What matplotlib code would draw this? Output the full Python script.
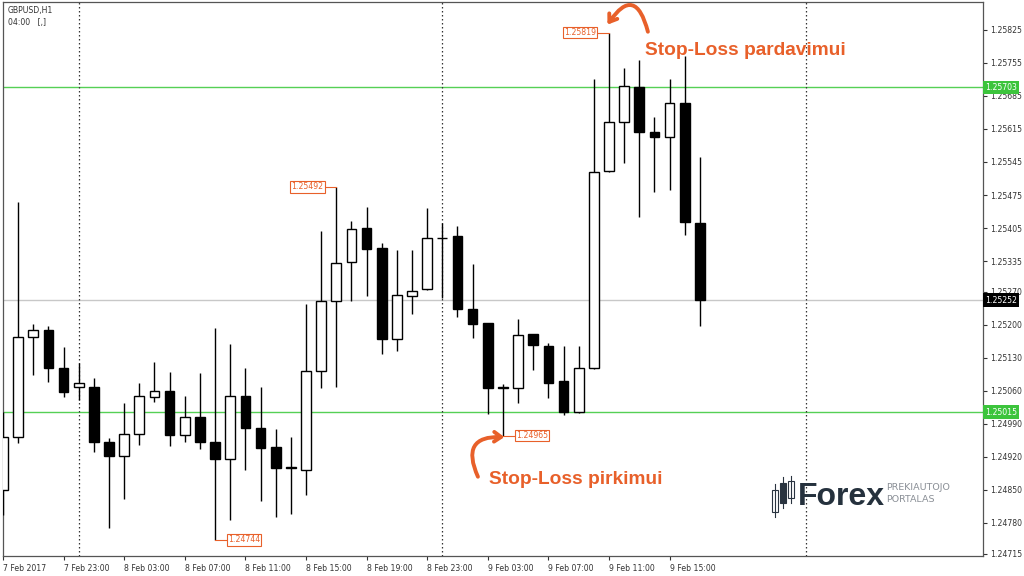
import matplotlib.pyplot as plt
import matplotlib.patches as mpatches
import numpy as np

# GBPUSD H1, 7 Feb 2017 19:00 .. 9 Feb 2017 17:00 (one candle per hour)
opens = [1.24850, 1.24962, 1.25174, 1.25189, 1.25108, 1.25068, 1.25068, 1.24952,
         1.24922, 1.24969, 1.25047, 1.25060, 1.24966, 1.25005, 1.24952, 1.24916,
         1.25049, 1.24981, 1.24941, 1.24898, 1.24892, 1.25102, 1.25250, 1.25333,
         1.25405, 1.25363, 1.25170, 1.25261, 1.25276, 1.25384, 1.25388, 1.25234,
         1.25204, 1.25068, 1.25066, 1.25181, 1.25155, 1.25081, 1.25015, 1.25108,
         1.25526, 1.25630, 1.25704, 1.25609, 1.25598, 1.25670, 1.25416]
highs = [1.25015, 1.25460, 1.25202, 1.25198, 1.25153, 1.25119, 1.25087, 1.24960,
         1.25034, 1.25077, 1.25121, 1.25100, 1.25049, 1.25098, 1.25193, 1.25159,
         1.25108, 1.25068, 1.24979, 1.24962, 1.25244, 1.25399, 1.25492, 1.25420,
         1.25450, 1.25373, 1.25359, 1.25359, 1.25448, 1.25416, 1.25410, 1.25329,
         1.25204, 1.25075, 1.25212, 1.25181, 1.25161, 1.25155, 1.25155, 1.25721,
         1.25819, 1.25744, 1.25761, 1.25641, 1.25721, 1.25770, 1.25556]
lows = [1.24797, 1.24949, 1.25094, 1.25079, 1.25047, 1.25041, 1.24930, 1.24769,
        1.24831, 1.24945, 1.25036, 1.24943, 1.24952, 1.24937, 1.24744, 1.24786,
        1.24892, 1.24826, 1.24793, 1.24799, 1.24839, 1.25066, 1.25068, 1.25250,
        1.25261, 1.25138, 1.25145, 1.25223, 1.25274, 1.25257, 1.25217, 1.25172,
        1.25011, 1.24965, 1.25034, 1.25104, 1.25045, 1.25009, 1.25013, 1.25106,
        1.25524, 1.25543, 1.25429, 1.25482, 1.25486, 1.25390, 1.25198]
closes = [1.24962, 1.25174, 1.25189, 1.25108, 1.25058, 1.25077, 1.24952, 1.24922,
          1.24969, 1.25049, 1.25060, 1.24966, 1.25005, 1.24952, 1.24916, 1.25049,
          1.24981, 1.24939, 1.24896, 1.24896, 1.25102, 1.25250, 1.25331, 1.25403,
          1.25361, 1.25170, 1.25263, 1.25272, 1.25384, 1.25384, 1.25234, 1.25202,
          1.25066, 1.25066, 1.25178, 1.25157, 1.25077, 1.25015, 1.25108, 1.25524,
          1.25630, 1.25706, 1.25609, 1.25598, 1.25670, 1.25418, 1.25252]

time_labels = ['7 Feb 2017', '7 Feb 23:00', '8 Feb 03:00', '8 Feb 07:00', '8 Feb 11:00',
               '8 Feb 15:00', '8 Feb 19:00', '8 Feb 23:00', '9 Feb 03:00', '9 Feb 07:00',
               '9 Feb 11:00', '9 Feb 15:00']
time_label_idx = [0, 4, 8, 12, 16, 20, 24, 28, 32, 36, 40, 44]
day_breaks = [5, 29, 53]  # 8 Feb 00:00, 9 Feb 00:00, 10 Feb 00:00

price_ticks = [1.24715, 1.24780, 1.24850, 1.24920, 1.24990, 1.25060, 1.25130, 1.25200,
               1.25270, 1.25335, 1.25405, 1.25475, 1.25545, 1.25615, 1.25685, 1.25755,
               1.25825]

green_levels = [1.25703, 1.25015]
last_price = 1.25252

# marked highs/lows: (candle index, price, label side)
marks = [(22, 1.25492, 'left'), (14, 1.24744, 'right'), (33, 1.24965, 'right'), (40, 1.25819, 'left')]

ORANGE = '#E8602A'
FS = 5.6

fig = plt.figure(figsize=(10.24, 5.76), dpi=100)
W, H = 1024, 576
ax = fig.add_axes([3 / W, (H - 556) / H, 980 / W, 554 / H])

x = np.arange(len(opens))
o = np.array(opens); c = np.array(closes)
ax.vlines(x, lows, highs, color='black', lw=1, zorder=3)
bull = c >= o
body_bottom = np.minimum(o, c)
body_h = np.abs(c - o)
ax.bar(x, body_h, bottom=body_bottom, width=0.64, color=np.where(bull, 'white', 'black'),
       edgecolor='black', linewidth=1, zorder=4)

for lvl in green_levels:
    ax.axhline(lvl, color='#55D055', lw=1, zorder=2)
ax.axhline(last_price, color='#C8C8C8', lw=1, zorder=2)
for d in day_breaks:
    ax.axvline(d, color='#333333', ls=(0, (1.2, 2)), lw=0.9, zorder=2)

ax.set_xlim(0, 64.69)
ax.set_ylim(1.24710, 1.25884)

ax.yaxis.tick_right()
ax.set_yticks(price_ticks)
ax.set_yticklabels([f'{p:.5f}' for p in price_ticks])
ax.set_xticks(time_label_idx)
ax.set_xticklabels(time_labels, ha='left')
ax.tick_params(axis='both', labelsize=FS, colors='#333333', length=3, width=0.8, pad=2)
ax.tick_params(axis='x', pad=3)
for s in ax.spines.values():
    s.set_color('#555555')
    s.set_linewidth(0.9)

# right-hand price tags
ytr = ax.get_yaxis_transform()
for lvl in green_levels:
    ax.text(1.002, lvl, f'{lvl:.5f}', transform=ytr, ha='left', va='center', fontsize=FS,
            color='white', bbox=dict(boxstyle='square,pad=0.3', fc='#3CC43C', ec='none'), clip_on=False)
ax.text(1.002, last_price, f'{last_price:.5f}', transform=ytr, ha='left', va='center', fontsize=FS,
        color='white', bbox=dict(boxstyle='square,pad=0.3', fc='black', ec='none'), clip_on=False)

# high / low labels
for idx, p, side in marks:
    off = 0.75
    lx = idx - off if side == 'left' else idx + off
    ax.plot([idx, lx], [p, p], color=ORANGE, lw=0.8, zorder=3)
    ax.text(lx + (-0.1 if side == 'left' else 0.1), p, f'{p:.5f}',
            ha='right' if side == 'left' else 'left', va='center', fontsize=FS, color=ORANGE,
            bbox=dict(boxstyle='square,pad=0.15', fc='white', ec=ORANGE, lw=0.8), zorder=5)

# stop-loss annotations
ax.annotate('', xy=(39.9, 1.25836), xytext=(42.57, 1.25821),
            arrowprops=dict(arrowstyle='->,head_length=0.5,head_width=0.35', color=ORANGE, lw=2.8,
                            connectionstyle='arc3,rad=1.1', shrinkA=0, shrinkB=0))
ax.text(42.35, 1.25782, 'Stop-Loss pardavimui', fontsize=13.8, fontweight='bold', color=ORANGE,
        family='Liberation Sans', ha='left', va='center')
ax.annotate('', xy=(33.1, 1.24962), xytext=(31.35, 1.24878),
            arrowprops=dict(arrowstyle='->,head_length=0.5,head_width=0.35', color=ORANGE, lw=2.8,
                            connectionstyle='arc3,rad=-0.8', shrinkA=0, shrinkB=0))
ax.text(32.1, 1.24872, 'Stop-Loss pirkimui', fontsize=13.8, fontweight='bold', color=ORANGE,
        family='Liberation Sans', ha='left', va='center')

# chart header
fig.text(8 / W, 1 - 10 / H, 'GBPUSD,H1', fontsize=FS, color='#333333', va='center')
fig.text(8 / W, 1 - 22 / H, '04:00   [,]', fontsize=FS, color='#333333', va='center')

# watermark logo
def px(xp, yp):
    return xp / W, 1 - yp / H
for cx, top, b0, b1, bot, filled in [(775, 484, 490, 512, 517, False), (783, 477, 483, 503, 508, True),
                                       (791, 476, 481, 498, 503, False)]:
    fig.add_artist(plt.Line2D([cx / W, cx / W], [1 - top / H, 1 - bot / H], color='#2A3440', lw=0.8))
    x0, y0 = px(cx - 3, b1)
    fig.add_artist(mpatches.Rectangle((x0, y0), 6 / W, (b1 - b0) / H, transform=fig.transFigure,
                                      fc='#2A3440' if filled else 'white', ec='#2A3440', lw=0.8))
fig.text(798 / W, 1 - 497 / H, 'Forex', fontsize=23, fontweight='bold', color='#25313D',
         va='center', ha='left', family='Liberation Sans')
fig.text(886 / W, 1 - 487 / H, 'PREKIAUTOJO', fontsize=6.8, color='#8A8F96', va='center')
fig.text(886 / W, 1 - 499 / H, 'PORTALAS', fontsize=6.8, color='#8A8F96', va='center')

plt.savefig('out.png', dpi=100)
